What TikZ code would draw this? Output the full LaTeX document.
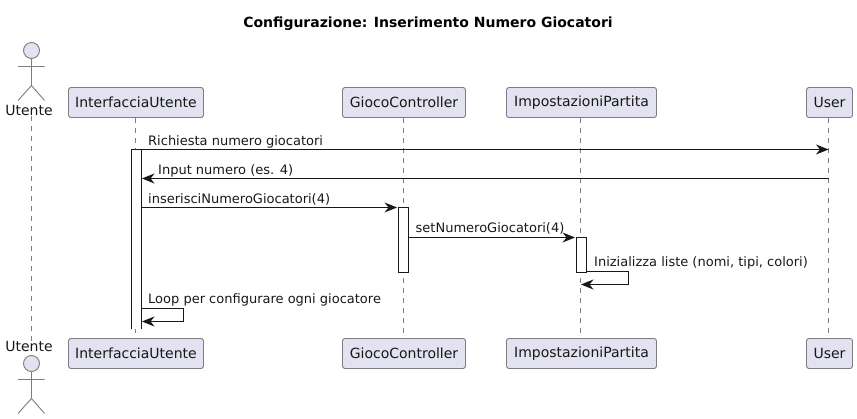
\documentclass[tikz,border=0pt]{standalone}
\usepackage{fontspec}
\setmainfont{DejaVu Sans}
\usetikzlibrary{arrows.meta}
\definecolor{partfill}{HTML}{E2E2F0}
\definecolor{partline}{HTML}{7C7C84}
\definecolor{ink}{HTML}{181818}
\tikzset{
  x=1pt,y=-1pt,
  part/.style={draw=partline,fill=partfill,line width=0.9pt,rounded corners=2.5pt,inner sep=0pt,minimum height=30pt,text=ink,font=\fontsize{14}{16}\selectfont},
  life/.style={draw=partline,line width=0.8pt,dash pattern=on 5pt off 5pt},
  act/.style={draw=ink,fill=white,line width=0.9pt},
  actbox/.style={act,inner sep=0pt,minimum width=10pt,anchor=north},
  msg/.style={draw=ink,line width=0.9pt,-{Stealth[length=12.5pt,width=10pt,inset=4pt,fill=ink]}},
  lab/.style={anchor=base west,inner sep=0pt,text=ink,font=\fontsize{13}{15}\selectfont},
  stick/.style={draw=partline,line width=0.9pt},
  actorhead/.style={circle,draw=partline,fill=partfill,line width=0.9pt,minimum size=16pt,inner sep=0pt},
  actorlab/.style={inner sep=0pt,text=ink,font=\fontsize{14}{16}\selectfont},
}
\begin{document}
\begin{tikzpicture}
\useasboundingbox (0,0) rectangle (857,419);
\node[inner sep=0pt,text=black,font=\bfseries\fontsize{14}{16}\selectfont] (title) at (428,24) {Configurazione: Inserimento Numero Giocatori};

% participants
\node[part,minimum width=135pt] (iuT) at (136,102.5) {InterfacciaUtente};
\node[part,minimum width=135pt] (iuB) at (136,353.5) {InterfacciaUtente};
\node[part,minimum width=123pt] (gcT) at (404,102.5) {GiocoController};
\node[part,minimum width=123pt] (gcB) at (404,353.5) {GiocoController};
\node[part,minimum width=150pt] (ipT) at (581.5,102.5) {ImpostazioniPartita};
\node[part,minimum width=150pt] (ipB) at (581.5,353.5) {ImpostazioniPartita};
\node[part,minimum width=46pt] (usT) at (829.5,102.5) {User};
\node[part,minimum width=46pt] (usB) at (829.5,353.5) {User};

% actors
\node[actorlab] (utT) at (29,110.5) {Utente};
\node[actorlab] (utB) at (29,346.5) {Utente};
\node[actorhead] (headT) at (31.5,50.5) {};
\node[actorhead] (headB) at (31.5,363.5) {};
\draw[stick] (headT.south) -- (31.5,85.5) -- (18,100.5) (31.5,85.5) -- (44.5,100.5) (18,66.5) -- (44.5,66.5);
\draw[stick] (headB.south) -- (31.5,398.5) -- (18,413.5) (31.5,398.5) -- (44.5,413.5) (18,379.5) -- (44.5,379.5);

% lifelines
\draw[life] ([xshift=2.5pt]utT.south) -- ([xshift=2.5pt]utB.north);
\draw[life] ([xshift=-0.5pt]iuT.south) -- ([xshift=-0.5pt]iuB.north);
\draw[life] ([xshift=-0.5pt]gcT.south) -- ([xshift=-0.5pt]gcB.north);
\draw[life] ([xshift=-1pt]ipT.south) -- ([xshift=-1pt]ipB.north);
\draw[life] ([xshift=-1pt]usT.south) -- ([xshift=-1pt]usB.north);

% activations
\fill[white] (131.5,149.5) rectangle (141.5,329.5);
\draw[act] (131.5,329.5) -- (131.5,149.5) -- (141.5,149.5) -- (141.5,329.5);
\node[actbox,minimum height=65pt] (a2) at (403.5,207.5) {};
\node[actbox,minimum height=35pt] (a3) at (581.5,237.5) {};

% free ends of messages
\coordinate (a1r) at (141.5,149.5);
\coordinate (m1b) at ([xshift=-1pt]usT.south |- a1r);
\coordinate (m2a) at (828.5,178.5);
\coordinate (m2b) at (142,178.5);
\coordinate (m3a) at (141.5,207.5);
\coordinate (m4a) at (408.5,237.5);
\coordinate (s1a) at (586.5,271.5);
\coordinate (s1b) at (581,284.5);
\coordinate (s2a) at (141.5,308.5);
\coordinate (s2b) at (142,321.5);

% messages
\draw[msg] (a1r) -- (m1b);
\draw[msg] (m2a) -- (m2b);
\draw[msg] (m3a) -- ([xshift=-1pt]a2.north west);
\draw[msg] (m4a) -- ([xshift=-1pt]a3.north west);
\draw[msg] (s1a) -- (628.5,271.5) -- (628.5,284.5) -- (s1b);
\draw[msg] (s2a) -- (183.5,308.5) -- (183.5,321.5) -- (s2b);

\node[lab] (t1) at (148,146) {Richiesta numero giocatori};
\node[lab] (t2) at (158,175) {Input numero (es. 4)};
\node[lab] (t3) at (148,203.5) {inserisciNumeroGiocatori(4)};
\node[lab] (t4) at (415.5,233) {setNumeroGiocatori(4)};
\node[lab] (t5) at (594,266.5) {Inizializza liste (nomi, tipi, colori)};
\node[lab] (t6) at (148,303.5) {Loop per configurare ogni giocatore};
\end{tikzpicture}
\end{document}
